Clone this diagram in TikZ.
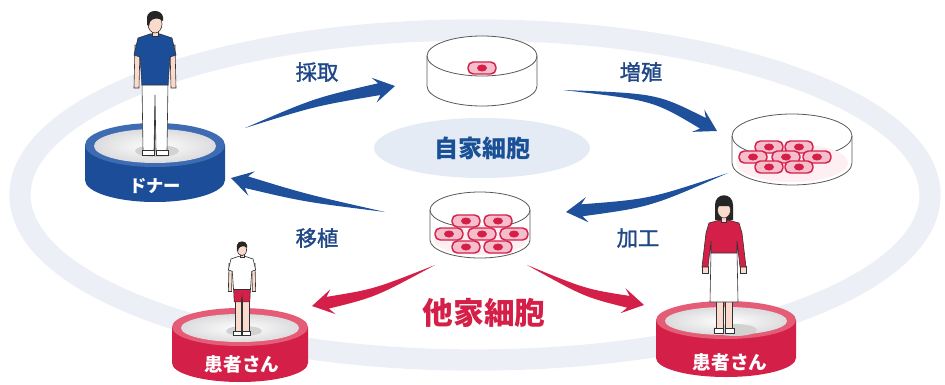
\documentclass[tikz,border=0pt]{standalone}
\usepackage{fontspec}
\newfontfamily\jpfont{Noto Sans CJK JP}
\newfontfamily\jpmid[FakeBold=1.4]{Noto Sans CJK JP}
\usetikzlibrary{calc}

\definecolor{donorBlue}{RGB}{28,77,152}
\definecolor{rimBlue}{RGB}{62,108,178}
\definecolor{arrowBlue}{RGB}{30,80,155}
\definecolor{textBlue}{RGB}{32,72,135}
\definecolor{titleBlue}{RGB}{25,80,150}
\definecolor{cellRed}{RGB}{212,32,72}
\definecolor{rimRed}{RGB}{228,92,118}
\definecolor{cellPink}{RGB}{246,190,204}
\definecolor{ringGray}{RGB}{236,240,246}
\definecolor{innerGray}{RGB}{228,235,244}
\definecolor{faceGray}{RGB}{220,220,222}
\definecolor{skin}{RGB}{250,218,204}
\definecolor{outline}{RGB}{50,50,50}

% petri dish: centre x, top y, x radius, y radius, depth
\newcommand{\dish}[5]{%
  \fill[white] (#1-#3,#2) -- (#1-#3,#2+#5) arc (180:0:#3 and #4) -- (#1+#3,#2) arc (0:-180:#3 and #4) -- cycle;
  \draw[dishline] (#1,#2) ellipse [x radius=#3, y radius=#4];
  \draw[dishline] (#1-#3,#2) -- (#1-#3,#2+#5) arc (180:0:#3 and #4) -- (#1+#3,#2);
}
% one cell: centre x, centre y
\newcommand{\cell}[2]{%
  \filldraw[cellRed, fill=cellPink, line width=1.1pt, rounded corners=4pt] (#1-14,#2-6) rectangle (#1+14,#2+6);
  \fill[cellRed] (#1,#2) ellipse [x radius=5, y radius=3.5];
}
% platform: centre x, top y, x radius, y radius, height, side colour, rim colour
\newcommand{\platform}[7]{%
  \fill[#6] (#1-#3,#2) -- (#1-#3,#2+#5) arc (180:0:#3 and #4) -- (#1+#3,#2) -- cycle;
  \fill[#7] (#1,#2) ellipse [x radius=#3, y radius=#4];
  \shade[inner color=white, outer color=faceGray] (#1,#2+1) ellipse [x radius=#3-9, y radius=#4-5];
}
% tapered arrow: tail, bend, tip, colour
\newcommand{\bigarrow}[4]{%
  \coordinate (hb) at ($(#3)!12pt!(#2)$);
  \coordinate (wb) at ($(#3)!16pt!(#2)$);
  \fill[#4] (#1) .. controls ($(#2)!3pt!90:(#3)$) .. ($(hb)!4.5pt!90:(#3)$)
    -- ($(wb)!9.5pt!90:(#3)$) -- (#3) -- ($(wb)!9.5pt!-90:(#3)$)
    -- ($(hb)!4.5pt!-90:(#3)$) .. controls ($(#2)!3pt!-90:(#3)$) .. (#1) -- cycle;
}
% standing man, feet at origin: shirt, trousers, hem height
\newcommand{\manfig}[3]{%
  \filldraw[person, fill=skin] (-11,-72) rectangle (-1,-5);
  \filldraw[person, fill=skin] (1,-72) rectangle (11,-5);
  \filldraw[person, fill=#2] (-13,-73) -- (13,-73) -- (12,#3) -- (1,#3) -- (0,-60) -- (-1,#3) -- (-12,#3) -- cycle;
  \filldraw[person, fill=white] (-13,-5) rectangle (-1,0);
  \filldraw[person, fill=white] (1,-5) rectangle (13,0);
  % arms
  \filldraw[person, fill=skin] (-20,-110) -- (-15,-108) -- (-16,-67) -- (-21,-67) -- cycle;
  \filldraw[person, fill=skin] (20,-110) -- (15,-108) -- (16,-67) -- (21,-67) -- cycle;
  % shirt
  \filldraw[person, fill=#1] (-5,-121) -- (5,-121) -- (17,-117) -- (21,-100) -- (15,-98) -- (13,-70)
    -- (-13,-70) -- (-15,-98) -- (-21,-100) -- (-17,-117) -- cycle;
  % head
  \filldraw[person, fill=skin] (-3,-126) rectangle (3,-119);
  \filldraw[person, fill=skin] (0,-131) ellipse [x radius=7, y radius=9];
  \fill[black!85] (-8,-130) -- (-8,-138) .. controls (-7,-146) and (7,-146) .. (8,-138) -- (8,-134)
    .. controls (4,-138) and (-3,-137) .. (-5,-133) -- (-6,-129) -- cycle;
}

\begin{document}
\begin{tikzpicture}[x=0.75pt, y=-0.75pt,
  dishline/.style={draw=gray!70!black, line width=0.6pt},
  person/.style={draw=outline, line width=0.45pt},
  lbl/.style={font=\jpmid\fontsize{16}{18}\selectfont, text=textBlue},
  title/.style={font=\jpfont\bfseries\fontsize{18}{20}\selectfont},
  tag/.style={font=\jpfont\bfseries\fontsize{13}{15}\selectfont, text=white}]

\useasboundingbox (0,0) rectangle (945,385);

% Background ring and centre ellipse
\draw[ringGray, line width=16pt] (475,195) ellipse [x radius=455, y radius=165];
\fill[innerGray] (482,148) ellipse [x radius=108, y radius=30];

% Donor
\platform{155}{145}{70}{22}{35}{donorBlue}{rimBlue}
\fill[gray!35] (157,151) ellipse [x radius=22, y radius=6];
\begin{scope}[shift={(155,155)}]
  \manfig{donorBlue}{white}{-4}
\end{scope}
\node[tag] (donorTag) at (155,186) {ドナー};

% Patient, left
\platform{240}{327}{68}{19}{36}{cellRed}{rimRed}
\fill[gray!35] (244,331) ellipse [x radius=18, y radius=5];
\begin{scope}[shift={(242,335)}, scale=0.65]
  \manfig{white}{cellRed}{-51}
\end{scope}
\node[tag, font=\jpfont\bfseries\fontsize{14}{16}\selectfont] (patientL) at (242,364) {患者さん};

% Patient, right
\platform{726}{320}{70}{19}{38}{cellRed}{rimRed}
\fill[gray!35] (735,330) ellipse [x radius=22, y radius=6];
\begin{scope}[shift={(724,333)}]
  \filldraw[person, fill=skin] (-8,-32) rectangle (-1,-5);
  \filldraw[person, fill=skin] (1,-32) rectangle (8,-5);
  \filldraw[person, fill=white] (-10,-5) rectangle (-1,0);
  \filldraw[person, fill=white] (1,-5) rectangle (10,0);
  \filldraw[person, fill=skin] (-22,-67) rectangle (-16,-60);
  \filldraw[person, fill=skin] (16,-67) rectangle (22,-60);
  % skirt and sweater
  \filldraw[person, fill=white] (-13,-82) -- (13,-82) -- (14,-31) -- (-14,-31) -- cycle;
  \filldraw[person, fill=cellRed] (-4,-113) -- (4,-113) -- (15,-110) -- (18,-100) -- (22,-66) -- (16,-66)
    -- (13,-92) -- (13,-80) -- (-13,-80) -- (-13,-92) -- (-16,-66) -- (-22,-66) -- (-18,-100) -- (-15,-110) -- cycle;
  % head
  \fill[black!85] (-9,-113) -- (-9,-128) .. controls (-9,-141) and (9,-141) .. (9,-128) -- (9,-113) -- cycle;
  \filldraw[person, fill=skin] (-2.5,-117) rectangle (2.5,-111);
  \filldraw[person, fill=skin] (0,-123) ellipse [x radius=6.5, y radius=8];
  \fill[black!85] (-7,-124) -- (-7,-129) .. controls (-6,-136) and (6,-136) .. (7,-129) -- (7,-124)
    -- (5,-127) -- (-5,-127) -- cycle;
\end{scope}
\node[tag, font=\jpfont\bfseries\fontsize{14}{16}\selectfont] (patientR) at (730,362) {患者さん};

% Dishes
\dish{482}{56}{55}{20}{30}
\cell{482}{68}
\dish{792}{136}{60}{22}{27}
\fill[cellPink!25] (792,163) ellipse [x radius=56, y radius=19];
\foreach \cx/\cy in {769/147, 799/147, 753/157, 786/157, 817/157, 769/167, 799/167}
  \cell{\cx}{\cy};
\dish{480}{210}{50}{18}{30}
\fill[cellPink!25] (480,240) ellipse [x radius=46, y radius=15];
\foreach \cx/\cy in {466/221, 498/221, 449/234, 482/234, 514/234, 466/247, 498/247}
  \cell{\cx}{\cy};

% Arrows
\coordinate (harvestTail) at (245,128);
\coordinate (harvestBend) at (315,102);
\coordinate (harvestTip) at (395,86);
\coordinate (growTail) at (563,90);
\coordinate (growBend) at (655,97);
\coordinate (growTip) at (717,131);
\coordinate (processTail) at (728,173);
\coordinate (processBend) at (650,203);
\coordinate (processTip) at (566,212);
\coordinate (implantTail) at (385,212);
\coordinate (implantBend) at (305,198);
\coordinate (implantTip) at (231,178);
\coordinate (alloLTail) at (435,265);
\coordinate (alloLBend) at (375,293);
\coordinate (alloLTip) at (312,306);
\coordinate (alloRTail) at (527,265);
\coordinate (alloRBend) at (585,293);
\coordinate (alloRTip) at (644,305);
\bigarrow{harvestTail}{harvestBend}{harvestTip}{arrowBlue}
\bigarrow{growTail}{growBend}{growTip}{arrowBlue}
\bigarrow{processTail}{processBend}{processTip}{arrowBlue}
\bigarrow{implantTail}{implantBend}{implantTip}{arrowBlue}
\bigarrow{alloLTail}{alloLBend}{alloLTip}{cellRed}
\bigarrow{alloRTail}{alloRBend}{alloRTip}{cellRed}

% Labels
\node[lbl] (harvest) at (317,72) {採取};
\node[lbl] (grow) at (641,72) {増殖};
\node[lbl] (implant) at (317,238) {移植};
\node[lbl] (process) at (638,238) {加工};
\node[title, text=titleBlue] (auto) at (482,148) {自家細胞};
\node[title, text=cellRed, font=\jpfont\bfseries\fontsize{23}{25}\selectfont] (allo) at (484,313) {他家細胞};
\end{tikzpicture}
\end{document}
